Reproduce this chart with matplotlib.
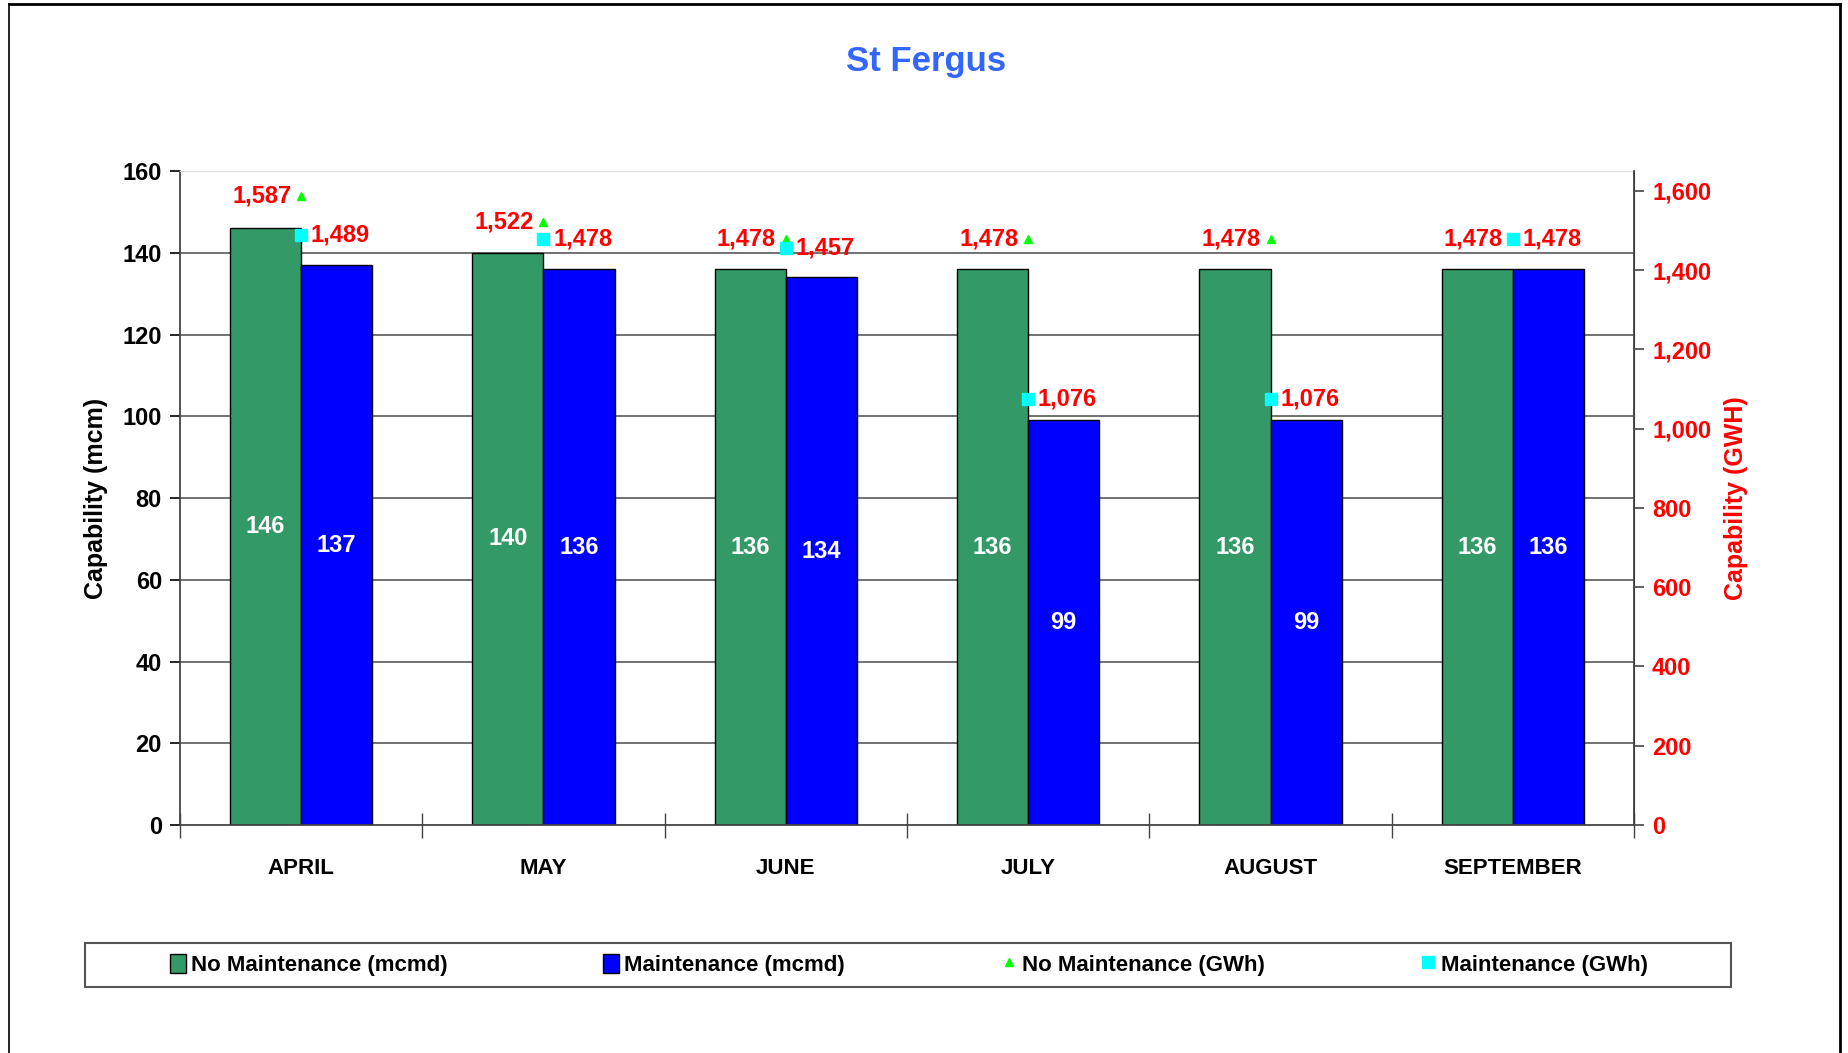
import numpy as np
import matplotlib
matplotlib.use("Agg")
import matplotlib.pyplot as plt
from matplotlib.patches import Patch, Rectangle
from matplotlib.lines import Line2D
from matplotlib.ticker import FuncFormatter

plt.rcParams['font.family'] = ['Liberation Sans Narrow', 'Liberation Sans', 'DejaVu Sans']
plt.rcParams['font.weight'] = 'bold'

# data
months = ['APRIL', 'MAY', 'JUNE', 'JULY', 'AUGUST', 'SEPTEMBER']
no_maint_mcmd = [146, 140, 136, 136, 136, 136]
maint_mcmd = [137, 136, 134, 99, 99, 136]
no_maint_gwh = [1587, 1522, 1478, 1478, 1478, 1478]
maint_gwh = [1489, 1478, 1457, 1076, 1076, 1478]

green = '#339966'
blue = '#0000FF'
red = '#FF0000'

fig = plt.figure(figsize=(18.48, 10.53), dpi=100)
ax = fig.add_axes([0.0974, 0.2165, 0.7868, 0.6211])
ax2 = ax.twinx()

x = np.arange(len(months))
w = 0.293

# bars
b1 = ax.bar(x - w / 2, no_maint_mcmd, w, color=green, edgecolor='black', linewidth=1.0, zorder=2)
b2 = ax.bar(x + w / 2, maint_mcmd, w, color=blue, edgecolor='black', linewidth=1.0, zorder=2)
for bars in (b1, b2):
    for b in bars:
        h = b.get_height()
        ax.text(b.get_x() + b.get_width() / 2, h / 2, f'{h:.0f}', color='white',
                fontsize=17, fontweight='bold', ha='center', va='center', zorder=3)

# left axis
ax.set_xlim(-0.5, len(months) - 0.5)
ax.set_ylim(0, 160)
yticks = np.arange(0, 161, 20)
ax.set_yticks(yticks)
for yv in yticks[1:-1]:
    ax.axhline(yv, color='#666666', linewidth=1.3, zorder=0)
ax.tick_params(axis='y', labelsize=17, direction='out', length=7, width=1.2, pad=6, colors='black')
ax.set_xticks(x)
ax.set_xticklabels(months, fontsize=16, fontweight='bold')
ax.tick_params(axis='x', which='major', length=0, pad=24)
ax.set_xticks(np.arange(-0.5, len(months), 1), minor=True)
ax.tick_params(axis='x', which='minor', direction='inout', length=18, width=1.0, color='#444444')
ax.spines['top'].set_color('#dddddd')
for s in ('left', 'bottom'):
    ax.spines[s].set_color('#444444')
    ax.spines[s].set_linewidth(1.3)
ax.set_ylabel('Capability (mcm)', fontsize=18, fontweight='bold')
ax.yaxis.set_label_coords(-0.0495, 0.5)

# right axis (GWh)
ax2.set_ylim(0, 1650)
ax2.set_yticks(np.arange(0, 1601, 200))
ax2.yaxis.set_major_formatter(FuncFormatter(lambda v, p: f'{v:,.0f}'))
ax2.tick_params(axis='y', labelsize=17, direction='out', length=7, width=1.2, pad=6,
                labelcolor=red, color='#444444')
ax2.spines['right'].set_color('#444444')
ax2.spines['right'].set_linewidth(1.3)
ax2.spines['top'].set_visible(False)
ax2.spines['left'].set_visible(False)
ax2.spines['bottom'].set_visible(False)
ax2.set_ylabel('Capability (GWH)', fontsize=18, fontweight='bold', color=red)
ax2.yaxis.set_label_coords(1.062, 0.5)

ax2.plot(x, no_maint_gwh, linestyle='none', marker='^', color='#00FF00', markersize=6, zorder=4)
ax2.plot(x, maint_gwh, linestyle='none', marker='s', color='#00FFFF', markersize=9, zorder=4)
for xi, v in zip(x, no_maint_gwh):
    ax2.annotate(f'{v:,}', (xi, v), xytext=(-7, 0), textcoords='offset points',
                 ha='right', va='center', color=red, fontsize=17, fontweight='bold')
for xi, v in zip(x, maint_gwh):
    ax2.annotate(f'{v:,}', (xi, v), xytext=(7, 0), textcoords='offset points',
                 ha='left', va='center', color=red, fontsize=17, fontweight='bold')

# title
fig.text(0.501, 0.942, 'St Fergus', color='#3366FF', fontsize=25, fontweight='bold',
         ha='center', va='center')

# legend
handles = [
    Patch(facecolor=green, edgecolor='black'),
    Patch(facecolor=blue, edgecolor='black'),
    Line2D([], [], linestyle='none', marker='^', color='#00FF00', markersize=6),
    Line2D([], [], linestyle='none', marker='s', color='#00FFFF', markersize=9),
]
labels = ['No Maintenance (mcmd)', 'Maintenance (mcmd)', 'No Maintenance (GWh)', 'Maintenance (GWh)']
fig.legend(handles, labels, loc='center', ncol=4, mode='expand', frameon=False,
           bbox_to_anchor=(0.092, 0.0636, 0.8, 0.04), bbox_transform=fig.transFigure,
           fontsize=16, handlelength=0.7, handleheight=0.95, handletextpad=0.25,
           borderpad=0, borderaxespad=0)
fig.add_artist(Rectangle((85 / 1848, 1 - 987 / 1053), (1731 - 85) / 1848, 44 / 1053,
                         transform=fig.transFigure, fill=False, edgecolor='#555555', linewidth=1.5))

# outer frame
fig.add_artist(Line2D([9 / 1848, 9 / 1848], [0, 1 - 4 / 1053], transform=fig.transFigure, color='black', lw=1.2))
fig.add_artist(Line2D([9 / 1848, 1840 / 1848], [1 - 4 / 1053, 1 - 4 / 1053], transform=fig.transFigure, color='black', lw=2))
fig.add_artist(Line2D([1840 / 1848, 1840 / 1848], [0, 1 - 4 / 1053], transform=fig.transFigure, color='black', lw=2))

fig.savefig('out.png', dpi=100, facecolor='white')
